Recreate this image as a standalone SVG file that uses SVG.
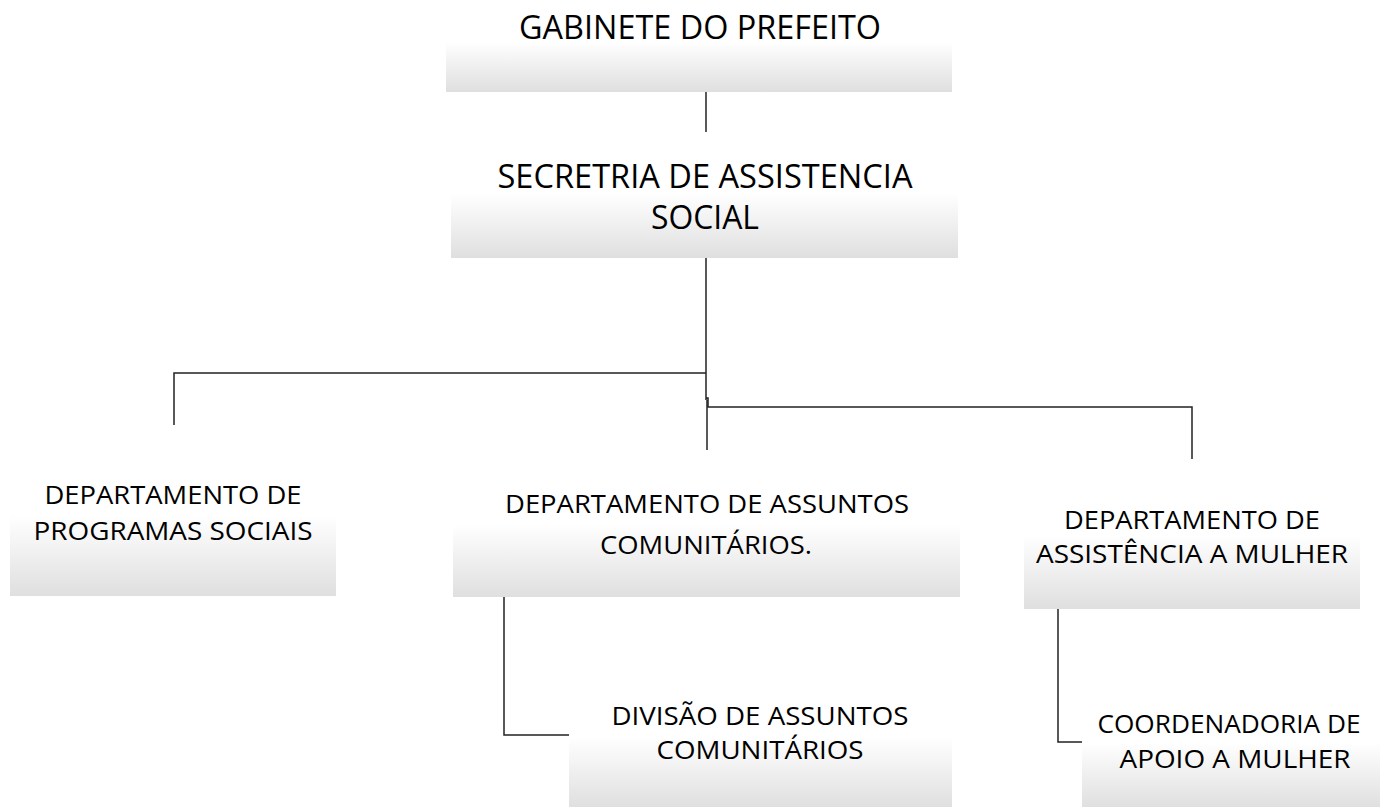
<svg xmlns="http://www.w3.org/2000/svg" width="1380" height="807" viewBox="0 0 1380 807">
<defs>
<linearGradient id="g" x1="0" y1="0" x2="0" y2="1">
<stop offset="0" stop-color="#ffffff"/>
<stop offset="0.45" stop-color="#ffffff"/>
<stop offset="1" stop-color="#dfdfdf"/>
</linearGradient>
</defs>
<style>
.box{fill:url(#g);stroke:none}
.t{font-family:"Open Sans","Liberation Sans",sans-serif;fill:#000;text-anchor:middle}
.big{font-size:32px}
.sm{font-size:26px}
.c{fill:none;stroke:#222;stroke-width:1.5}
</style>
<rect width="1380" height="807" fill="#fff"/>
<g id="connectors">
<path class="c" d="M706,92 V132"/>
<path class="c" d="M706,258 V400"/>
<path class="c" d="M706,373 H174 V425"/>
<path class="c" d="M706,398 H708 V407 H1192 V459"/>
<path class="c" d="M707,400 V450"/>
<path class="c" d="M504,597 V735 H569"/>
<path class="c" d="M1058,609 V742 H1082"/>
</g>
<g id="gabinete">
<rect class="box" x="446" y="0" width="506" height="92"/>
<text class="t big" x="700" y="39" textLength="362" lengthAdjust="spacingAndGlyphs">GABINETE DO PREFEITO</text>
</g>
<g id="secretaria">
<rect class="box" x="451" y="140" width="507" height="118"/>
<text class="t big" x="705" y="188" textLength="415" lengthAdjust="spacingAndGlyphs">SECRETRIA DE ASSISTENCIA</text>
<text class="t big" x="705" y="229" textLength="108" lengthAdjust="spacingAndGlyphs">SOCIAL</text>
</g>
<g id="dep-programas">
<rect class="box" x="10" y="450" width="326" height="146"/>
<text class="t sm" x="173" y="504" textLength="257" lengthAdjust="spacingAndGlyphs">DEPARTAMENTO DE</text>
<text class="t sm" x="173" y="540" textLength="279" lengthAdjust="spacingAndGlyphs">PROGRAMAS SOCIAIS</text>
</g>
<g id="dep-assuntos">
<rect class="box" x="453" y="465" width="507" height="132"/>
<text class="t sm" x="707" y="513" textLength="404" lengthAdjust="spacingAndGlyphs">DEPARTAMENTO DE ASSUNTOS</text>
<text class="t sm" x="706" y="554" textLength="212" lengthAdjust="spacingAndGlyphs">COMUNITÁRIOS.</text>
</g>
<g id="dep-mulher">
<rect class="box" x="1024" y="475" width="336" height="134"/>
<text class="t sm" x="1192" y="529" textLength="256" lengthAdjust="spacingAndGlyphs">DEPARTAMENTO DE</text>
<text class="t sm" x="1192" y="563" textLength="312" lengthAdjust="spacingAndGlyphs">ASSISTÊNCIA A MULHER</text>
</g>
<g id="div-assuntos">
<rect class="box" x="569" y="680" width="383" height="127"/>
<text class="t sm" x="760" y="725" textLength="297" lengthAdjust="spacingAndGlyphs">DIVISÃO DE ASSUNTOS</text>
<text class="t sm" x="760" y="759" textLength="207" lengthAdjust="spacingAndGlyphs">COMUNITÁRIOS</text>
</g>
<g id="coord-mulher">
<rect class="box" x="1082" y="690" width="298" height="117"/>
<text class="t sm" x="1229" y="733" textLength="263" lengthAdjust="spacingAndGlyphs">COORDENADORIA DE</text>
<text class="t sm" x="1235" y="768" textLength="231" lengthAdjust="spacingAndGlyphs">APOIO A MULHER</text>
</g>
</svg>
